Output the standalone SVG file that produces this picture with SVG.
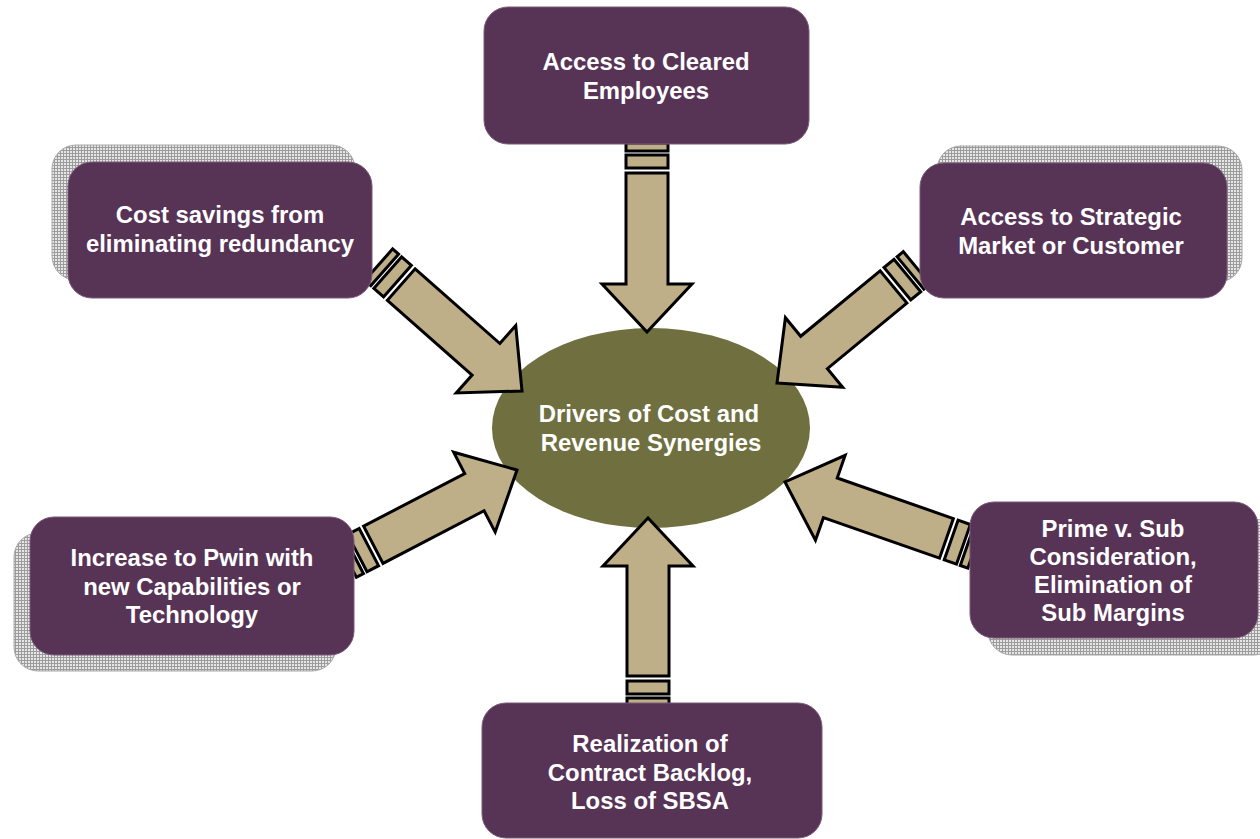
<svg xmlns="http://www.w3.org/2000/svg" width="1260" height="839" viewBox="0 0 1260 839">
  <defs>
    <style>
      .box { fill: #573356; stroke: #7a5a77; stroke-width: 1; }
      .shadow { fill: url(#hatch); stroke: #a8a8a8; stroke-width: 1; }
      .hub { fill: #6F6F3F; }
      .lbl { font-family: "Liberation Sans", Arial, sans-serif; font-weight: bold; font-size: 23.9px; fill: #ffffff; text-anchor: middle; }
      .arrow path, .arrow rect { fill: #BEAF88; stroke: #000000; stroke-width: 3; stroke-linejoin: miter; }
    </style>
    <!-- fine grid used for the drop shadows behind the side boxes -->
    <pattern id="hatch" width="3" height="3" patternUnits="userSpaceOnUse">
      <rect width="3" height="3" fill="#e6e6e6"/>
      <path d="M0 0.5H3M0.5 0V3" stroke="#9c9c9c" stroke-width="1"/>
    </pattern>
  </defs>

  <rect width="1260" height="839" fill="#ffffff"/>

  <!-- drop shadows -->
  <g id="shadows">
    <rect class="shadow" x="52" y="145" width="303" height="135" rx="24"/>
    <rect class="shadow" x="937" y="146" width="305" height="136" rx="24"/>
    <rect class="shadow" x="14" y="533" width="322" height="138" rx="24"/>
    <rect class="shadow" x="988" y="519" width="290" height="136" rx="24"/>
  </g>

  <!-- central hub -->
  <g id="hub">
    <ellipse class="hub" cx="651" cy="428" rx="159" ry="100"/>
    <text class="lbl" x="649" y="422">Drivers of Cost and</text>
    <text class="lbl" x="651" y="451">Revenue Synergies</text>
  </g>

  <!-- striped block arrows; each drawn pointing +x with its tip at the origin -->
  <g id="connectors">
    <g class="arrow" id="arrow-top" transform="translate(647,332) rotate(90)">
      <path d="M0 0L-48 -45L-48 -21L-159 -21L-159 21L-48 21L-48 45Z"/>
      <rect x="-177" y="-21" width="13" height="42"/>
      <rect x="-189" y="-21" width="8" height="42"/>
    </g>
    <g class="arrow" id="arrow-bottom" transform="translate(648,518) rotate(-90)">
      <path d="M0 0L-48 -45L-48 -21L-158 -21L-158 21L-48 21L-48 45Z"/>
      <rect x="-176" y="-21" width="13" height="42"/>
      <rect x="-188" y="-21" width="8" height="42"/>
    </g>
    <g class="arrow" id="arrow-top-left" transform="translate(522,391) rotate(41.4)">
      <path d="M0 0L-48 -45L-48 -21L-161 -21L-161 21L-48 21L-48 45Z"/>
      <rect x="-179" y="-21" width="13" height="42"/>
      <rect x="-191" y="-21" width="8" height="42"/>
    </g>
    <g class="arrow" id="arrow-top-right" transform="translate(777,383) rotate(140.5)">
      <path d="M0 0L-48 -45L-48 -21L-151 -21L-151 21L-48 21L-48 45Z"/>
      <rect x="-169" y="-21" width="13" height="42"/>
      <rect x="-181" y="-21" width="8" height="42"/>
    </g>
    <g class="arrow" id="arrow-bottom-left" transform="translate(517,470) rotate(-27.5)">
      <path d="M0 0L-48 -45L-48 -21L-162 -21L-162 21L-48 21L-48 45Z"/>
      <rect x="-180" y="-21" width="13" height="42"/>
      <rect x="-192" y="-21" width="8" height="42"/>
    </g>
    <g class="arrow" id="arrow-bottom-right" transform="translate(785,482) rotate(199.25)">
      <path d="M0 0L-48 -45L-48 -21L-171 -21L-171 21L-48 21L-48 45Z"/>
      <rect x="-189" y="-21" width="13" height="42"/>
      <rect x="-201" y="-21" width="8" height="42"/>
    </g>
  </g>

  <!-- driver boxes -->
  <g id="cleared-employees">
    <rect class="box" x="484" y="7" width="325" height="137" rx="24"/>
    <text class="lbl" x="646" y="70">Access to Cleared</text>
    <text class="lbl" x="646" y="99">Employees</text>
  </g>

  <g id="cost-savings">
    <rect class="box" x="68" y="162" width="304" height="136" rx="24"/>
    <text class="lbl" x="220" y="223">Cost savings from</text>
    <text class="lbl" x="220" y="252">eliminating redundancy</text>
  </g>

  <g id="strategic-market">
    <rect class="box" x="920" y="163" width="307" height="135" rx="24"/>
    <text class="lbl" x="1071" y="225">Access to Strategic</text>
    <text class="lbl" x="1071" y="254">Market or Customer</text>
  </g>

  <g id="pwin">
    <rect class="box" x="30" y="517" width="324" height="138" rx="24"/>
    <text class="lbl" x="192" y="566">Increase to Pwin with</text>
    <text class="lbl" x="192" y="595">new Capabilities or</text>
    <text class="lbl" x="192" y="623">Technology</text>
  </g>

  <g id="prime-sub">
    <rect class="box" x="970" y="502" width="288" height="136" rx="24"/>
    <text class="lbl" x="1113" y="537">Prime v. Sub</text>
    <text class="lbl" x="1113" y="565">Consideration,</text>
    <text class="lbl" x="1113" y="593">Elimination of</text>
    <text class="lbl" x="1113" y="621">Sub Margins</text>
  </g>

  <g id="contract-backlog">
    <rect class="box" x="482" y="703" width="340" height="135" rx="24"/>
    <text class="lbl" x="650" y="752">Realization of</text>
    <text class="lbl" x="650" y="781">Contract Backlog,</text>
    <text class="lbl" x="650" y="809">Loss of SBSA</text>
  </g>
</svg>
